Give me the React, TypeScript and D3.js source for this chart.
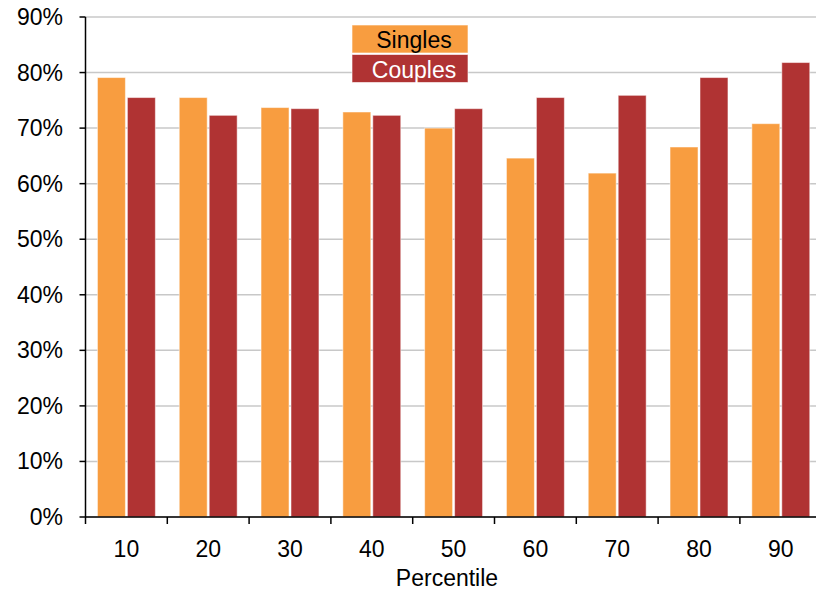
import React from "react";
import * as d3 from "d3";

const categories = ["10", "20", "30", "40", "50", "60", "70", "80", "90"];
const seriesNames = ["Singles", "Couples"];
const singles = [79.1, 75.5, 73.7, 72.9, 70.0, 64.6, 61.9, 66.6, 70.8];
const couples = [75.5, 72.3, 73.5, 72.3, 73.5, 75.5, 75.9, 79.1, 81.8];
const yTicks = [0, 10, 20, 30, 40, 50, 60, 70, 80, 90];
const xTitle = "Percentile";

const colors: Record<string, string> = { Singles: "#F89D40", Couples: "#B03333" };
const textColors: Record<string, string> = { Singles: "#000", Couples: "#fff" };

export default function App() {
  const W = 816, H = 590;
  const left = 85.5, top = 17, bottom = 517;
  const step = 81.8;
  const x = d3.scaleBand<string>().domain(categories).range([left, left + step * categories.length]).padding(0);
  const bw = x.bandwidth();
  const xs = d3.scaleBand<string>().domain(seriesNames).range([bw * 0.146, bw * 0.854]).paddingInner(0.067);
  const y = d3.scaleLinear().domain([0, 90]).range([bottom, top]);
  const data: Record<string, number[]> = { Singles: singles, Couples: couples };
  const font = "'Liberation Sans', Arial, sans-serif";
  const fs = 23;
  const boundaries = d3.range(categories.length + 1).map((i) => left + i * bw);

  return (
    <svg width={W} height={H} style={{ position: "absolute", left: 0, top: 0, background: "#fff" }} fontFamily={font}>
      {yTicks.map((t) => (
        <line key={"g" + t} x1={left} x2={W} y1={y(t)} y2={y(t)} stroke="#c8c8c8" strokeWidth={1.5} />
      ))}
      {categories.map((c, i) =>
        seriesNames.map((s) => (
          <rect
            key={c + s}
            x={(x(c) as number) + (xs(s) as number)}
            y={y(data[s][i])}
            width={xs.bandwidth()}
            height={bottom - y(data[s][i])}
            fill={colors[s]}
            stroke="#fff"
            strokeOpacity={0.5}
            strokeWidth={1}
          />
        ))
      )}
      <line x1={left} x2={left} y1={top} y2={bottom} stroke="#000" strokeWidth={1.5} />
      <line x1={left} x2={W} y1={bottom} y2={bottom} stroke="#000" strokeWidth={1.5} />
      {yTicks.map((t) => (
        <g key={"y" + t}>
          <line x1={left - 6} x2={left} y1={y(t)} y2={y(t)} stroke="#000" strokeWidth={1.5} />
          <text x={63} y={y(t)} dy="0.35em" textAnchor="end" fontSize={fs} fill="#000">
            {t}%
          </text>
        </g>
      ))}
      {boundaries.map((b, i) => (
        <line key={"xt" + i} x1={b} x2={b} y1={bottom} y2={bottom + 7} stroke="#000" strokeWidth={1.5} />
      ))}
      {categories.map((c) => (
        <text key={"xl" + c} x={(x(c) as number) + bw / 2} y={549} dy="0.35em" textAnchor="middle" fontSize={fs} fill="#000">
          {c}
        </text>
      ))}
      <text x={447} y={578} dy="0.35em" textAnchor="middle" fontSize={fs} fill="#000">
        {xTitle}
      </text>
      {seriesNames.map((s, i) => (
        <g key={"lg" + s}>
          <rect x={352} y={25 + i * 29.5} width={116} height={28} fill={colors[s]} stroke="#fff" strokeOpacity={0.6} />
          <text x={414} y={25 + i * 29.5 + 15} dy="0.35em" textAnchor="middle" fontSize={fs} fill={textColors[s]}>
            {s}
          </text>
        </g>
      ))}
    </svg>
  );
}
